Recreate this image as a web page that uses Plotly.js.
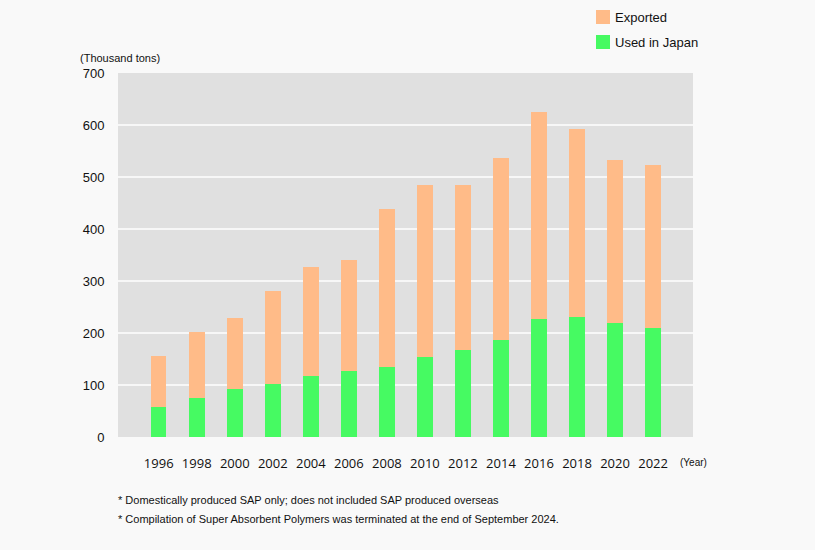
<!DOCTYPE html>
<html>
<head>
<meta charset="utf-8">
<script src="https://cdn.plot.ly/plotly-3.0.1.min.js"></script>
<style>
  html, body { margin: 0; padding: 0; background: #f9f9f9; }
  #chart { width: 815px; height: 550px; }
</style>
</head>
<body>
<div id="chart"></div>
<script>
const years = [1996, 1998, 2000, 2002, 2004, 2006, 2008, 2010, 2012, 2014, 2016, 2018, 2020, 2022];
const usedInJapan = [58, 75, 92, 102, 118, 126, 135, 153, 167, 186, 227, 230, 220, 210];
const exported = [97, 126, 136, 179, 209, 215, 303, 332, 318, 350, 398, 362, 312, 313];
const yTicks = [0, 100, 200, 300, 400, 500, 600, 700];
const seriesNames = ['Used in Japan', 'Exported'];
const seriesColors = ['#46fa62', '#ffbb88'];

const traces = [
  {
    type: 'bar', name: seriesNames[0], x: years, y: usedInJapan,
    marker: { color: seriesColors[0] }, width: 0.82, hoverinfo: 'x+y'
  },
  {
    type: 'bar', name: seriesNames[1], x: years, y: exported,
    marker: { color: seriesColors[1] }, width: 0.82, hoverinfo: 'x+y'
  }
];

// manual legend (paper coordinates): plot spans 575 x 364 px
const px = v => (v - 118) / 575;
const py = v => (437 - v) / 364;
const legendItems = [
  { name: seriesNames[1], color: seriesColors[1], top: 10 },
  { name: seriesNames[0], color: seriesColors[0], top: 35 }
];
const shapes = legendItems.map(it => ({
  type: 'rect', xref: 'paper', yref: 'paper',
  x0: px(596), x1: px(610), y0: py(it.top), y1: py(it.top + 14),
  fillcolor: it.color, line: { width: 0 }
}));
const legendAnn = legendItems.map(it => ({
  text: it.name, xref: 'paper', yref: 'paper', x: px(613), y: py(it.top + 7.5),
  xanchor: 'left', yanchor: 'middle', showarrow: false,
  font: { size: 13, color: '#111' }
}));

const layout = {
  width: 815, height: 550,
  margin: { l: 118, r: 122, t: 73, b: 113 },
  paper_bgcolor: '#f9f9f9',
  plot_bgcolor: '#e0e0e0',
  barmode: 'stack',
  bargap: 0,
  showlegend: false,
  font: { family: 'Liberation Sans, Arial, sans-serif', color: '#111' },
  xaxis: {
    range: [1993.86, 2024.1],
    tickvals: years,
    ticktext: years.map(String),
    tickfont: { family: 'Open Sans, sans-serif', size: 13, color: '#111' },
    ticks: 'outside', ticklen: 14, tickcolor: 'rgba(0,0,0,0)',
    showgrid: false, zeroline: false, showline: false, fixedrange: true
  },
  yaxis: {
    range: [0, 700],
    tickvals: yTicks,
    tickfont: { family: 'Liberation Sans, Arial, sans-serif', size: 13, color: '#111' },
    ticks: 'outside', ticklen: 10, tickcolor: 'rgba(0,0,0,0)',
    showgrid: true, gridcolor: '#f7f7f7', gridwidth: 2,
    zeroline: false, showline: false, fixedrange: true
  },
  shapes: shapes,
  annotations: legendAnn.concat([
    { text: '(Thousand tons)', xref: 'paper', yref: 'paper', x: px(78), y: py(58),
      xanchor: 'left', yanchor: 'middle', showarrow: false, font: { size: 11, color: '#111' } },
    { text: '(Year)', xref: 'paper', yref: 'paper', x: px(678), y: py(462),
      xanchor: 'left', yanchor: 'middle', showarrow: false, font: { size: 10, color: '#111' } },
    { text: '* Domestically produced SAP only; does not included SAP produced overseas', xref: 'paper', yref: 'paper',
      x: px(116), y: py(500), xanchor: 'left', yanchor: 'middle', showarrow: false, font: { size: 11, color: '#111' } },
    { text: '* Compilation of Super Absorbent Polymers was terminated at the end of September 2024.', xref: 'paper', yref: 'paper',
      x: px(116), y: py(519), xanchor: 'left', yanchor: 'middle', showarrow: false, font: { size: 11, color: '#111' } }
  ])
};

Plotly.newPlot('chart', traces, layout, { displayModeBar: false, staticPlot: true });
</script>
</body>
</html>
